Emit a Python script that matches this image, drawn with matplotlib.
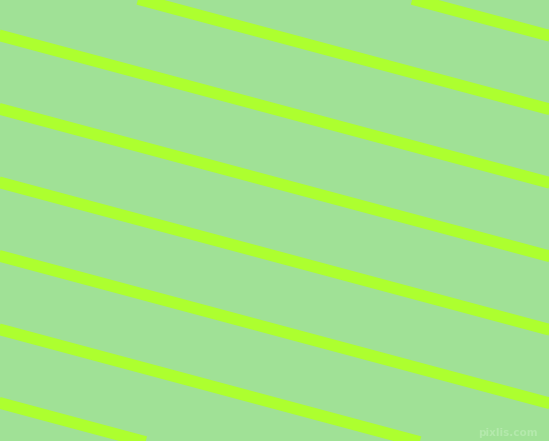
import numpy as np
import matplotlib
matplotlib.use("Agg")
import matplotlib.pyplot as plt

# stripe geometry (pixel coords, y down)
stripe_offsets = [-111.5, -38.0, 35.5, 109.0, 182.5, 256.0, 329.5, 403.0]  # y at x=0
stripe_slope = 0.268
x_ends = [-20, 570]

bg_color = "#a0e196"
line_color = "#adff2f"

fig = plt.figure(figsize=(5.49, 4.41), dpi=100)
ax = fig.add_axes([0, 0, 1, 1])
ax.set_facecolor(bg_color)
fig.patch.set_facecolor(bg_color)

xs = np.array(x_ends, dtype=float)
for b in stripe_offsets:
    ax.plot(xs, b + stripe_slope * xs, color=line_color, lw=8.4,
            solid_capstyle="butt")

ax.text(538, 438, "pixlis.com", color="#b4e9ac", fontsize=7.5,
        fontweight="bold", ha="right", va="bottom")

ax.set_xlim(0, 549)
ax.set_ylim(441, 0)
ax.axis("off")

fig.savefig("out.png", dpi=100, facecolor=bg_color)
